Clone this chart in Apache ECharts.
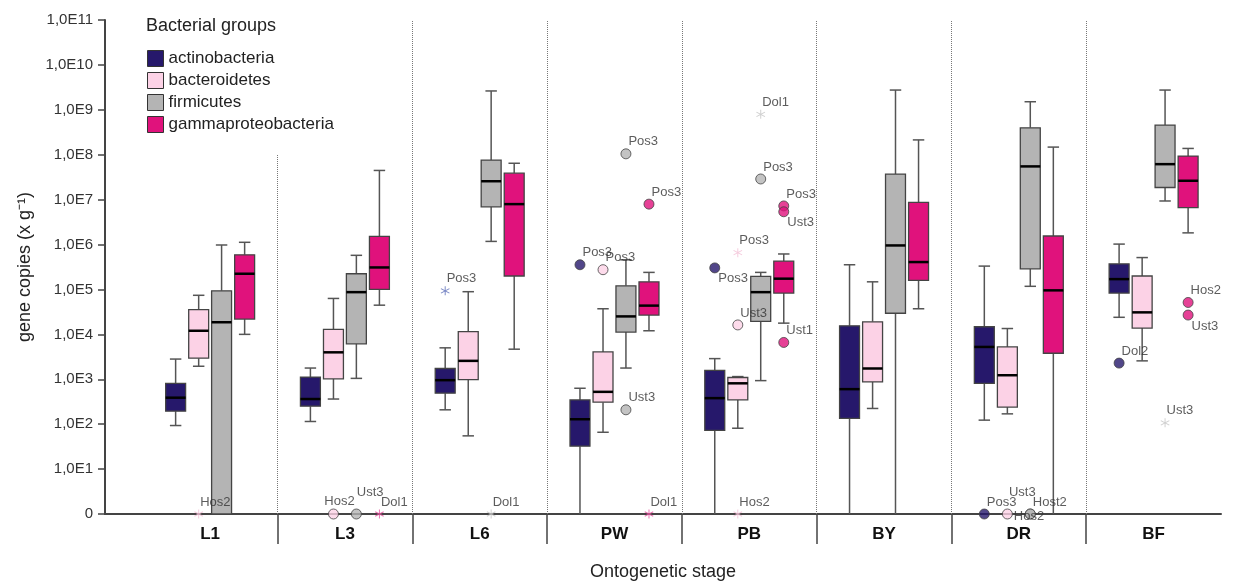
<!DOCTYPE html>
<html>
<head>
<meta charset="utf-8">
<title>Bacterial groups by ontogenetic stage</title>
<script src="https://cdn.jsdelivr.net/npm/echarts@6/dist/echarts.min.js"></script>
<style>
  html, body { margin: 0; padding: 0; background: #fff; }
  #chart { width: 1234px; height: 585px; }
</style>
</head>
<body>
<div id="chart"></div>
<script>
// stages on the x axis
const stages = ['L1', 'L3', 'L6', 'PW', 'PB', 'BY', 'DR', 'BF']
const groups = ['actinobacteria', 'bacteroidetes', 'firmicutes', 'gammaproteobacteria']

// box rows per stage: [min, q1, median, q3, max] as log10(gene copies), 0 = no copies
const actinobacteria = [
  [1.97, 2.29, 2.59, 2.91, 3.45],
  [2.06, 2.40, 2.56, 3.05, 3.25],
  [2.32, 2.69, 2.98, 3.24, 3.70],
  [0, 1.51, 2.11, 2.54, 2.80],
  [0, 1.86, 2.58, 3.20, 3.46],
  [0, 2.13, 2.78, 4.19, 5.55],
  [2.09, 2.91, 3.72, 4.17, 5.52],
  [4.38, 4.92, 5.23, 5.57, 6.01]
]
const bacteroidetes = [
  [3.29, 3.47, 4.08, 4.55, 4.87],
  [2.56, 3.01, 3.60, 4.11, 4.80],
  [1.74, 2.99, 3.41, 4.06, 4.95],
  [1.82, 2.49, 2.72, 3.61, 4.57],
  [1.91, 2.54, 2.91, 3.04, 3.06],
  [2.35, 2.94, 3.24, 4.28, 5.17],
  [2.23, 2.38, 3.09, 3.72, 4.13],
  [3.41, 4.14, 4.49, 5.30, 5.71]
]
const firmicutes = [
  [0, 0, 4.27, 4.97, 5.99],
  [3.02, 3.79, 4.94, 5.35, 5.76],
  [6.07, 6.84, 7.41, 7.88, 9.42],
  [3.25, 4.05, 4.40, 5.08, 5.66],
  [2.97, 4.29, 4.94, 5.29, 5.38],
  [0, 4.47, 5.98, 7.57, 9.44],
  [5.07, 5.46, 7.74, 8.60, 9.18],
  [6.97, 7.27, 7.79, 8.66, 9.44]
]
const gammaproteobacteria = [
  [4.00, 4.34, 5.35, 5.77, 6.05],
  [4.65, 5.00, 5.49, 6.18, 7.65],
  [3.67, 5.30, 6.90, 7.59, 7.81],
  [4.08, 4.43, 4.64, 5.17, 5.38],
  [4.25, 4.92, 5.24, 5.63, 5.79],
  [4.57, 5.20, 5.61, 6.94, 8.33],
  [0, 3.58, 4.98, 6.19, 8.17],
  [6.26, 6.82, 7.42, 7.97, 8.14]
]

// outliers: [stage, group index, log10 value, sample, mark ('o' circle, '*' extreme)]
const outliers = [
  ['L1', 1, 0, 'Hos2', '*'],
  ['L3', 1, 0, 'Hos2', 'o'],
  ['L3', 2, 0, 'Ust3', 'o'],
  ['L3', 3, 0, 'Dol1', '*'],
  ['L6', 0, 4.97, 'Pos3', '*'],
  ['L6', 2, 0, 'Dol1', '*'],
  ['PW', 0, 5.55, 'Pos3', 'o'],
  ['PW', 1, 5.44, 'Pos3', 'o'],
  ['PW', 2, 8.02, 'Pos3', 'o'],
  ['PW', 3, 6.90, 'Pos3', 'o'],
  ['PW', 2, 2.32, 'Ust3', 'o'],
  ['PW', 3, 0, 'Dol1', '*'],
  ['PB', 0, 5.48, 'Pos3', 'o'],
  ['PB', 1, 5.82, 'Pos3', '*'],
  ['PB', 1, 4.21, 'Ust3', 'o'],
  ['PB', 1, 0, 'Hos2', '*'],
  ['PB', 2, 8.90, 'Dol1', '*'],
  ['PB', 2, 7.46, 'Pos3', 'o'],
  ['PB', 3, 6.86, 'Pos3', 'o'],
  ['PB', 3, 6.73, 'Ust3', 'o'],
  ['PB', 3, 3.82, 'Ust1', 'o'],
  ['DR', 0, 0, 'Pos3', 'o'],
  ['DR', 1, 0, 'Hos2', 'o'],
  ['DR', 2, 0, 'Ust3', 'o'],
  ['DR', 2, 0, 'Host2', 'o'],
  ['BF', 0, 3.36, 'Dol2', 'o'],
  ['BF', 2, 2.03, 'Ust3', '*'],
  ['BF', 3, 4.71, 'Hos2', 'o'],
  ['BF', 3, 4.43, 'Ust3', 'o']
]

// where an outlier's name sits if not top-right
const labelSpot = {
  'PB/Pos3/0': 'br',
  'PB/Ust3/3': 'br',
  'BF/Ust3/3': 'br',
  'DR/Hos2/1': 'r',
  'DR/Ust3/2': 'tl',
  'L3/Hos2/1': 't',
  'L3/Ust3/2': 'tu'
}

const boxes = [actinobacteria, bacteroidetes, firmicutes, gammaproteobacteria]
const colors = ['#26186b', '#fcd2e6', '#b4b4b4', '#e0127c']
const starColors = ['#5a6cb8', '#f3bfd6', '#c4c4c4', '#e2509c']
const boxOffset = [-0.256, -0.085, 0.085, 0.256]
const boxW = 0.148
const capW = 0.085

// thin six-armed asterisk
const starPath = 'path://M-1,-10L1,-10L1,10L-1,10Z' +
  'M8.16,-5.87L9.16,-4.13L-8.16,5.87L-9.16,4.13Z' +
  'M-9.16,-4.13L-8.16,-5.87L9.16,4.13L8.16,5.87Z'

function renderBox (gi) {
  return function (params, api) {
    const x = api.value(0) + boxOffset[gi]
    const lo = api.value(1)
    const y = [1, 2, 3, 4, 5].map(d => api.coord([x, api.value(d)])[1])
    const cx = api.coord([x, 0])[0]
    const w = api.size([boxW, 0])[0]
    const cap = api.size([capW, 0])[0]
    const whisker = { stroke: '#555', lineWidth: 1.5 }
    const kids = [
      { type: 'line', shape: { x1: cx, y1: y[4], x2: cx, y2: y[3] }, style: whisker },
      { type: 'line', shape: { x1: cx, y1: y[1], x2: cx, y2: y[0] }, style: whisker },
      { type: 'line', shape: { x1: cx - cap / 2, y1: y[4], x2: cx + cap / 2, y2: y[4] }, style: whisker }
    ]
    if (lo > 0) {
      kids.push({ type: 'line', shape: { x1: cx - cap / 2, y1: y[0], x2: cx + cap / 2, y2: y[0] }, style: whisker })
    }
    kids.push({
      type: 'rect',
      shape: { x: cx - w / 2, y: y[3], width: w, height: y[1] - y[3] },
      style: { fill: colors[gi], stroke: '#444', lineWidth: 1.3 }
    })
    kids.push({
      type: 'line',
      shape: { x1: cx - w / 2, y1: y[2], x2: cx + w / 2, y2: y[2] },
      style: { stroke: '#000', lineWidth: 2.5 }
    })
    return { type: 'group', children: kids }
  }
}

function spotLabel (spot) {
  const base = { show: true, fontSize: 13, color: '#333' }
  if (spot === 'br') return Object.assign(base, { position: 'right', distance: 0, offset: [-2, 11] })
  if (spot === 'r') return Object.assign(base, { position: 'right', distance: 1, offset: [0, 2] })
  if (spot === 'tl') return Object.assign(base, { position: 'top', distance: 10, offset: [-8, 0] })
  if (spot === 't') return Object.assign(base, { position: 'top', distance: 1, offset: [6, 0] })
  if (spot === 'tu') return Object.assign(base, { position: 'right', distance: 0, offset: [-5, -22] })
  return Object.assign(base, { position: 'right', distance: 0, offset: [-3, -12] })
}

const series = []
groups.forEach((name, gi) => {
  series.push({
    name: name,
    type: 'custom',
    renderItem: renderBox(gi),
    itemStyle: { color: colors[gi], borderColor: '#333', borderWidth: 1 },
    encode: { x: 0, y: [1, 2, 3, 4, 5] },
    data: boxes[gi].map((r, i) => [i].concat(r)),
    z: 2
  })
})
groups.forEach((name, gi) => {
  series.push({
    name: name,
    type: 'scatter',
    z: 3,
    clip: false,
    data: outliers.filter(o => o[1] === gi).map(o => {
      const star = o[4] === '*'
      return {
        value: [stages.indexOf(o[0]) + boxOffset[gi], o[2]],
        symbol: star ? starPath : 'circle',
        symbolSize: star ? 9 : 10,
        itemStyle: {
          color: star ? starColors[gi] : colors[gi],
          borderColor: star ? 'transparent' : '#444',
          borderWidth: star ? 0 : 1
        },
        label: Object.assign(spotLabel(labelSpot[o[0] + '/' + o[3] + '/' + gi]), { formatter: o[3] })
      }
    })
  })
})
// dotted separators between stages
series.push({
  name: 'sep',
  type: 'line',
  data: [],
  silent: true,
  markLine: {
    silent: true,
    symbol: 'none',
    label: { show: false },
    lineStyle: { color: '#777', type: 'dotted', width: 1 },
    data: stages.slice(1).map((s, i) => [
      { coord: [i + 0.5, 0] },
      { coord: [i + 0.5, i === 0 ? 8 : 11] }
    ])
  }
})

const chart = echarts.init(document.getElementById('chart'))
chart.setOption({
  animation: false,
  textStyle: { fontFamily: 'Liberation Sans, Arial, sans-serif' },
  title: {
    text: 'Bacterial groups',
    left: 141,
    top: 12,
    textStyle: { fontSize: 18, fontWeight: 'normal', color: '#222' }
  },
  legend: {
    data: groups,
    orient: 'vertical',
    left: 142,
    top: 45,
    icon: 'rect',
    itemWidth: 16,
    itemHeight: 16,
    itemGap: 5,
    itemStyle: { borderColor: '#333', borderWidth: 1 },
    textStyle: { fontSize: 17, color: '#222' }
  },
  grid: { left: 105, right: 13, top: 20, bottom: 71, outerBoundsMode: 'none' },
  xAxis: {
    type: 'value',
    min: -0.78,
    max: 7.5,
    name: 'Ontogenetic stage',
    nameLocation: 'middle',
    nameGap: 49,
    nameTextStyle: { fontSize: 18, color: '#222' },
    axisLine: { onZero: false, lineStyle: { color: '#444', width: 2 } },
    axisTick: {
      show: true,
      length: 30,
      customValues: stages.slice(1).map((s, i) => i + 0.5),
      lineStyle: { color: '#444', width: 1.5 }
    },
    axisLabel: {
      customValues: stages.map((s, i) => i),
      formatter: v => stages[Math.round(v)],
      margin: 12,
      fontSize: 17,
      fontWeight: 'bold',
      color: '#111'
    },
    splitLine: { show: false }
  },
  yAxis: {
    type: 'value',
    min: 0,
    max: 11,
    interval: 1,
    name: 'gene copies (x g⁻¹)',
    nameLocation: 'middle',
    nameGap: 71,
    nameTextStyle: { fontSize: 18, color: '#222' },
    axisLine: { show: true, onZero: false, lineStyle: { color: '#444', width: 2 } },
    axisTick: { show: true, length: 7, lineStyle: { color: '#444', width: 1.5 } },
    axisLabel: {
      formatter: v => (v === 0 ? '0' : '1,0E' + v),
      fontSize: 15,
      color: '#333',
      margin: 12
    },
    splitLine: { show: false }
  },
  series: series
})
</script>
</body>
</html>
